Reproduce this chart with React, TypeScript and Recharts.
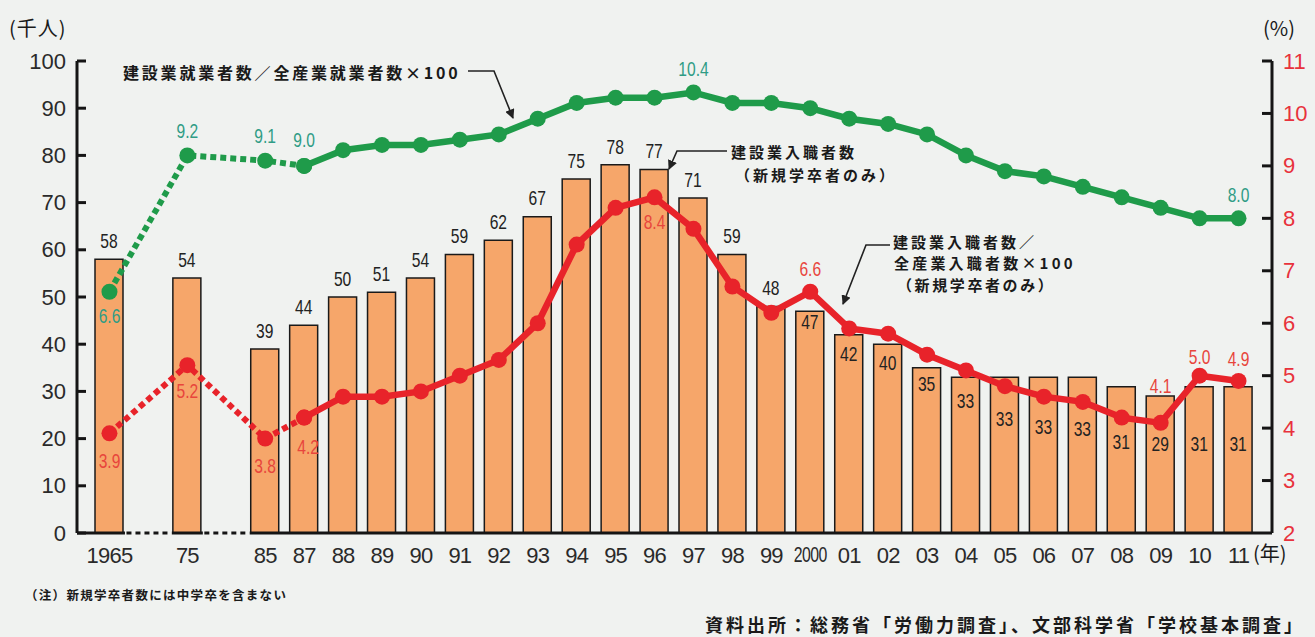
import React from 'react';
import { ComposedChart, Bar, Line, XAxis, YAxis, LabelList } from 'recharts';

// ---------- data ----------
const categories = ['1965', 'gap1', '75', 'gap2', '85', '87', '88', '89', '90', '91', '92', '93', '94', '95', '96', '97', '98', '99', '2000', '01', '02', '03', '04', '05', '06', '07', '08', '09', '10', '11'];
// 建設業入職者数（新規学卒者のみ）千人
const entrants: (number | null)[] = [58, null, 54, null, 39, 44, 50, 51, 54, 59, 62, 67, 75, 78, 77, 71, 59, 48, 47, 42, 40, 35, 33, 33, 33, 33, 31, 29, 31, 31];
// 建設業就業者数／全産業就業者数×100 (%)
const employmentShare: (number | null)[] = [6.6, null, 9.2, null, 9.1, 9.0, 9.3, 9.4, 9.4, 9.5, 9.6, 9.9, 10.2, 10.3, 10.3, 10.4, 10.2, 10.2, 10.1, 9.9, 9.8, 9.6, 9.2, 8.9, 8.8, 8.6, 8.4, 8.2, 8.0, 8.0];
// 建設業入職者数／全産業入職者数×100 (%)
const entrantShare: (number | null)[] = [3.9, null, 5.2, null, 3.8, 4.2, 4.6, 4.6, 4.7, 5.0, 5.3, 6.0, 7.5, 8.2, 8.4, 7.8, 6.7, 6.2, 6.6, 5.9, 5.8, 5.4, 5.1, 4.8, 4.6, 4.5, 4.2, 4.1, 5.0, 4.9];
const leftTicks = [0, 10, 20, 30, 40, 50, 60, 70, 80, 90, 100];
const rightTicks = [2, 3, 4, 5, 6, 7, 8, 9, 10, 11];
const SOLID_FROM = categories.indexOf('87');

// ---------- styles / label placement ----------
const greenLabelDy: Record<string, number> = { '1965': 25, '75': -24, '85': -24, '87': -26, '97': -23, '11': -23 };
const redLabelDy: Record<string, number> = { '1965': 28, '75': 26, '85': 28, '87': 30, '96': 25, '2000': -22, '09': -37, '10': -18, '11': -22 };
const redLabelDx: Record<string, number> = { '87': 4 };
// bar value labels drawn inside the bar: text centre given in left-axis units
const barLabelInsideAt: Record<string, number> = { '2000': 44.6, '01': 37.8, '02': 36, '03': 31.4, '04': 27.8, '05': 24, '06': 22.3, '07': 21.9, '08': 19.3, '09': 18.7, '10': 18.7, '11': 18.7 };

const W = 1315, H = 637;
const PLOT_LEFT = 77, PLOT_RIGHT = 1272, PLOT_TOP = 61, PLOT_BOTTOM = 533;
const LEFT_AXIS_W = 60, RIGHT_AXIS_W = 43, X_AXIS_H = 30;
const PAD_L = 13, PAD_R = 14;
const SLOT = (PLOT_RIGHT - PLOT_LEFT - PAD_L - PAD_R) / categories.length;
const FIRST_CENTER = PLOT_LEFT + PAD_L + SLOT / 2;
const BAR_SIZE = 28;
const BG = '#f0f2f0';
const AXIS = '#151515';
const GREEN = '#1f9b4a';
const RED = '#e8232a';
const GREEN_TXT = '#2f9c85';
const RED_TXT = '#e8453c';
const BAR_FILL = '#f6a66a';
const NUM_FONT = "'Liberation Sans', Arial, sans-serif";
const CJK_FONT = "'Noto Sans CJK JP', 'Noto Sans', sans-serif";

const data = categories.map((cat, i) => ({
  cat,
  entrants: entrants[i],
  gDot: i <= SOLID_FROM ? employmentShare[i] : null,
  gSolid: i >= SOLID_FROM ? employmentShare[i] : null,
  rDot: i <= SOLID_FROM ? entrantShare[i] : null,
  rSolid: i >= SOLID_FROM ? entrantShare[i] : null,
}));

// category index recovered from the band centre the label is attached to
const idxFromX = (cx: number) => Math.max(0, Math.min(categories.length - 1, Math.round((cx - FIRST_CENTER) / SLOT)));

const Narrow = ({ x, y, fill, size = 20, sx = 0.78, children }: any) => (
  <text
    transform={`translate(${x},${y}) scale(${sx},1)`}
    x={0}
    y={0}
    textAnchor="middle"
    dominantBaseline="central"
    fontSize={size}
    fill={fill}
    fontFamily={NUM_FONT}
  >
    {children}
  </text>
);

const BarLabel = (p: any) => {
  const vb = p.viewBox || p;
  const x = vb.x ?? p.x, y = vb.y ?? p.y, width = vb.width ?? p.width, height = vb.height ?? p.height;
  const value = p.value;
  if (value == null || value === 0) return null;
  const cx = x + width / 2;
  const cat = categories[idxFromX(cx)];
  const inside = barLabelInsideAt[cat];
  const cy = inside != null ? y + height - (inside * height) / value : y - 18;
  return <Narrow x={cx} y={cy} fill="#222">{value}</Narrow>;
};

const makeLineLabel = (dyMap: Record<string, number>, dxMap: Record<string, number>, color: string, dotted: boolean) => (p: any) => {
  const vb = p.viewBox || p;
  const x = vb.x ?? p.x, y = vb.y ?? p.y;
  if (p.value == null || x == null || y == null) return null;
  const idx = idxFromX(x);
  if (dotted ? idx >= SOLID_FROM : idx < SOLID_FROM) return null;
  const cat = categories[idx];
  const dy = dyMap[cat];
  if (dy == null) return null;
  const dx = dxMap[cat] || 0;
  return <Narrow x={x + dx} y={y + dy} fill={color}>{Number(p.value).toFixed(1)}</Narrow>;
};

const LeftTick = (p: any) => {
  const { x, y, payload } = p;
  return (
    <g>
      <line x1={x} x2={x + 9} y1={y} y2={y} stroke={AXIS} strokeWidth={3} />
      <text x={x - 11} y={y} textAnchor="end" dominantBaseline="central" fontSize={22} fill="#2a2a2a" fontFamily={NUM_FONT}>
        {payload.value}
      </text>
    </g>
  );
};

const RightTick = (p: any) => {
  const { x, y, payload } = p;
  return (
    <g>
      {payload.value !== 2 && <line x1={x - 10} x2={x} y1={y} y2={y} stroke={AXIS} strokeWidth={3} />}
      <text x={x + 11} y={y} textAnchor="start" dominantBaseline="central" fontSize={22} fill="#e8323c" fontFamily={NUM_FONT}>
        {payload.value}
      </text>
    </g>
  );
};

const XTick = (p: any) => {
  const { x, y, payload } = p;
  const v = String(payload.value);
  if (v.startsWith('gap')) {
    const half = SLOT - BAR_SIZE / 2;
    return (
      <g>
        <rect x={x - half + 1.5} y={y - 3} width={2 * half - 3} height={6} fill={BG} />
        <line x1={x - half + 3} x2={x + half - 2} y1={y} y2={y} stroke={AXIS} strokeWidth={3} strokeDasharray="5 4" />
      </g>
    );
  }
  const sx = v.length > 3 && v !== '1965' ? 0.72 : 1;
  return (
    <text
      transform={`translate(${x},${y + 22}) scale(${sx},1)`}
      x={0}
      y={0}
      textAnchor="middle"
      dominantBaseline="central"
      fontSize={22}
      letterSpacing={-0.8}
      fill="#2a2a2a"
      fontFamily={NUM_FONT}
    >
      {v}
    </text>
  );
};

const Txt = ({ left, cy, size = 15, weight = 700, ls = 0, children, color = '#1a1a1a' }: any) => (
  <div
    style={{
      position: 'absolute',
      left,
      top: cy,
      transform: 'translateY(-50%)',
      fontFamily: CJK_FONT,
      fontSize: size,
      fontWeight: weight,
      letterSpacing: ls,
      color,
      whiteSpace: 'nowrap',
      lineHeight: 1,
    }}
  >
    {children}
  </div>
);

export default function App() {
  return (
    <div style={{ position: 'absolute', left: 0, top: 0, width: W, height: H, background: BG, overflow: 'hidden' }}>
      <ComposedChart
        width={W}
        height={H}
        data={data}
        margin={{ top: PLOT_TOP, left: PLOT_LEFT - LEFT_AXIS_W, right: W - PLOT_RIGHT - RIGHT_AXIS_W, bottom: H - PLOT_BOTTOM - X_AXIS_H }}
      >
        <XAxis
          dataKey="cat"
          type="category"
          interval={0}
          height={X_AXIS_H}
          padding={{ left: PAD_L, right: PAD_R }}
          axisLine={{ stroke: AXIS, strokeWidth: 3 }}
          tickLine={false}
          tickSize={0}
          tickMargin={0}
          tick={<XTick />}
        />
        <YAxis
          yAxisId="left"
          orientation="left"
          width={LEFT_AXIS_W}
          domain={[0, 100]}
          ticks={leftTicks}
          interval={0}
          axisLine={{ stroke: AXIS, strokeWidth: 3 }}
          tickLine={false}
          tickSize={0}
          tickMargin={0}
          tick={<LeftTick />}
        />
        <YAxis
          yAxisId="right"
          orientation="right"
          width={RIGHT_AXIS_W}
          domain={[2, 11]}
          ticks={rightTicks}
          interval={0}
          axisLine={{ stroke: AXIS, strokeWidth: 3 }}
          tickLine={false}
          tickSize={0}
          tickMargin={0}
          tick={<RightTick />}
        />
        <Bar yAxisId="left" dataKey="entrants" barSize={BAR_SIZE} fill={BAR_FILL} stroke="#1a1a1a" strokeWidth={1.5} isAnimationActive={false}>
          <LabelList dataKey="entrants" content={<BarLabel />} />
        </Bar>
        <Line yAxisId="right" dataKey="gDot" stroke={GREEN} strokeWidth={6} strokeDasharray="6 4" connectNulls dot={{ r: 8, fill: GREEN, stroke: 'none', strokeDasharray: '' }} activeDot={false} isAnimationActive={false}>
          <LabelList dataKey="gDot" content={makeLineLabel(greenLabelDy, {}, GREEN_TXT, true)} />
        </Line>
        <Line yAxisId="right" dataKey="gSolid" stroke={GREEN} strokeWidth={6.5} dot={{ r: 8, fill: GREEN, stroke: 'none' }} activeDot={false} isAnimationActive={false}>
          <LabelList dataKey="gSolid" content={makeLineLabel(greenLabelDy, {}, GREEN_TXT, false)} />
        </Line>
        <Line yAxisId="right" dataKey="rDot" stroke={RED} strokeWidth={6} strokeDasharray="6 4" connectNulls dot={{ r: 8, fill: RED, stroke: 'none', strokeDasharray: '' }} activeDot={false} isAnimationActive={false}>
          <LabelList dataKey="rDot" content={makeLineLabel(redLabelDy, redLabelDx, RED_TXT, true)} />
        </Line>
        <Line yAxisId="right" dataKey="rSolid" stroke={RED} strokeWidth={6.5} dot={{ r: 8, fill: RED, stroke: 'none' }} activeDot={false} isAnimationActive={false}>
          <LabelList dataKey="rSolid" content={makeLineLabel(redLabelDy, redLabelDx, RED_TXT, false)} />
        </Line>
      </ComposedChart>

      <svg width={W} height={H} style={{ position: 'absolute', left: 0, top: 0, pointerEvents: 'none' }}>
        <defs>
          <marker id="ah" viewBox="0 0 10 10" refX="9" refY="5" markerWidth="6" markerHeight="6" orient="auto">
            <path d="M0,0 L10,5 L0,10 z" fill="#222" />
          </marker>
        </defs>
        <polyline points="468,71 494,71 513,118" fill="none" stroke="#222" strokeWidth={1.6} markerEnd="url(#ah)" />
        <polyline points="727,151 677,151 669,169" fill="none" stroke="#222" strokeWidth={1.6} markerEnd="url(#ah)" />
        <polyline points="890,245 866,245 843,304" fill="none" stroke="#222" strokeWidth={1.6} markerEnd="url(#ah)" />
      </svg>

      <Txt left={9} cy={28} size={20} weight={400} ls={1}>(千人)</Txt>
      <Txt left={1263} cy={28} size={20} weight={400}>(%)</Txt>
      <Txt left={1253} cy={553} size={20} weight={400}>(年)</Txt>
      <Txt left={123} cy={72} size={16} ls={2.8}>建設業就業者数／全産業就業者数×100</Txt>
      <Txt left={731} cy={151} size={15} ls={3}>建設業入職者数</Txt>
      <Txt left={735} cy={174} size={15} ls={3}>（新規学卒者のみ）</Txt>
      <Txt left={893} cy={241} size={15} ls={3}>建設業入職者数／</Txt>
      <Txt left={894} cy={262} size={15} ls={3.2}>全産業入職者数×100</Txt>
      <Txt left={897} cy={284} size={15} ls={2.6}>（新規学卒者のみ）</Txt>
      <Txt left={25} cy={595} size={12.5} ls={1.3}>（注）新規学卒者数には中学卒を含まない</Txt>
      <Txt left={705} cy={624} size={18} ls={3}>資料出所：総務省「労働力調査」、文部科学省「学校基本調査」</Txt>
    </div>
  );
}
